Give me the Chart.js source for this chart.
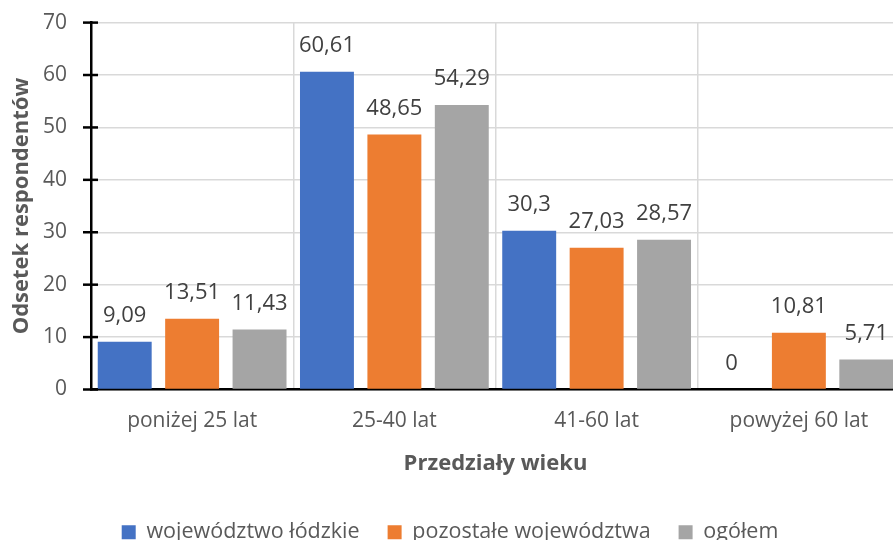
<!DOCTYPE html>
<html>
<head>
<meta charset="utf-8">
<script src="https://cdn.jsdelivr.net/npm/chart.js@4"></script>
<style>
  html, body { margin: 0; padding: 0; overflow: hidden; background: #fff; }
  #wrap { width: 910px; height: 567px; margin-top: -14px; }
</style>
</head>
<body>
<div id="wrap"><canvas id="chart"></canvas></div>
<script>
// age groups
const categories = ["poniżej 25 lat", "25-40 lat", "41-60 lat", "powyżej 60 lat"];
const seriesNames = ["województwo łódzkie", "pozostałe województwa", "ogółem"];
const lodzkie = [9.09, 60.61, 30.3, 0];
const pozostale = [13.51, 48.65, 27.03, 10.81];
const ogolem = [11.43, 54.29, 28.57, 5.71];
const colors = ["#4472C4", "#ED7D31", "#A5A5A5"];
const yTicks = [0, 10, 20, 30, 40, 50, 60, 70];

const FONT = "'Open Sans', sans-serif";
const TXT = "#595959";

// crossing tick marks on the y axis + value labels above bars
const extras = {
  id: "extras",
  afterDatasetsDraw(chart) {
    const ctx = chart.ctx;
    const y = chart.scales.y;
    ctx.save();
    ctx.strokeStyle = "#000";
    ctx.lineWidth = 2.5;
    yTicks.forEach(v => {
      const py = y.getPixelForValue(v);
      ctx.beginPath();
      ctx.moveTo(y.right - 8, py);
      ctx.lineTo(y.right + 7, py);
      ctx.stroke();
    });
    ctx.font = "22px " + FONT;
    ctx.fillStyle = "#404040";
    ctx.textAlign = "center";
    ctx.textBaseline = "middle";
    chart.data.datasets.forEach((ds, i) => {
      chart.getDatasetMeta(i).data.forEach((bar, j) => {
        const txt = String(ds.data[j]).replace(".", ",");
        ctx.fillText(txt, bar.x, bar.y - 26);
      });
    });
    ctx.restore();
  }
};

new Chart(document.getElementById("chart"), {
  type: "bar",
  data: {
    labels: categories,
    datasets: [
      { label: seriesNames[0], data: lodzkie, backgroundColor: colors[0] },
      { label: seriesNames[1], data: pozostale, backgroundColor: colors[1] },
      { label: seriesNames[2], data: ogolem, backgroundColor: colors[2] },
    ],
  },
  options: {
    responsive: true,
    maintainAspectRatio: false,
    animation: false,
    categoryPercentage: 1.0,
    barPercentage: 0.8,
    layout: { padding: { top: 0, right: 10, left: 0, bottom: 0 } },
    plugins: {
      tooltip: { enabled: false },
      legend: {
        position: "bottom",
        labels: {
          color: TXT,
          font: { family: FONT, size: 21.5 },
          boxWidth: 14,
          boxHeight: 14,
          padding: 28,
        },
      },
    },
    scales: {
      x: {
        grid: { offset: true, color: "#d9d9d9", lineWidth: 1.5, drawTicks: false },
        border: { color: "#000", width: 2.5 },
        ticks: { color: TXT, font: { family: FONT, size: 21, lineHeight: 1.0 }, padding: 21 },
        title: {
          display: true,
          text: "Przedziały wieku",
          color: TXT,
          font: { family: FONT, size: 22, weight: "bold", lineHeight: 1.0 },
          padding: { top: 0, bottom: 19 },
        },
      },
      y: {
        min: 0,
        max: 70,
        afterFit: s => { s.width = 91; },
        ticks: { stepSize: 10, color: TXT, font: { family: FONT, size: 21 }, padding: 24 },
        grid: { color: "#d9d9d9", lineWidth: 1.5, drawTicks: false },
        border: { color: "#000", width: 2.5 },
        title: {
          display: true,
          text: "Odsetek respondentów",
          color: TXT,
          font: { family: FONT, size: 22, weight: "bold" },
          padding: { top: 9, bottom: 0 },
        },
      },
    },
  },
  plugins: [extras],
});
</script>
</body>
</html>
